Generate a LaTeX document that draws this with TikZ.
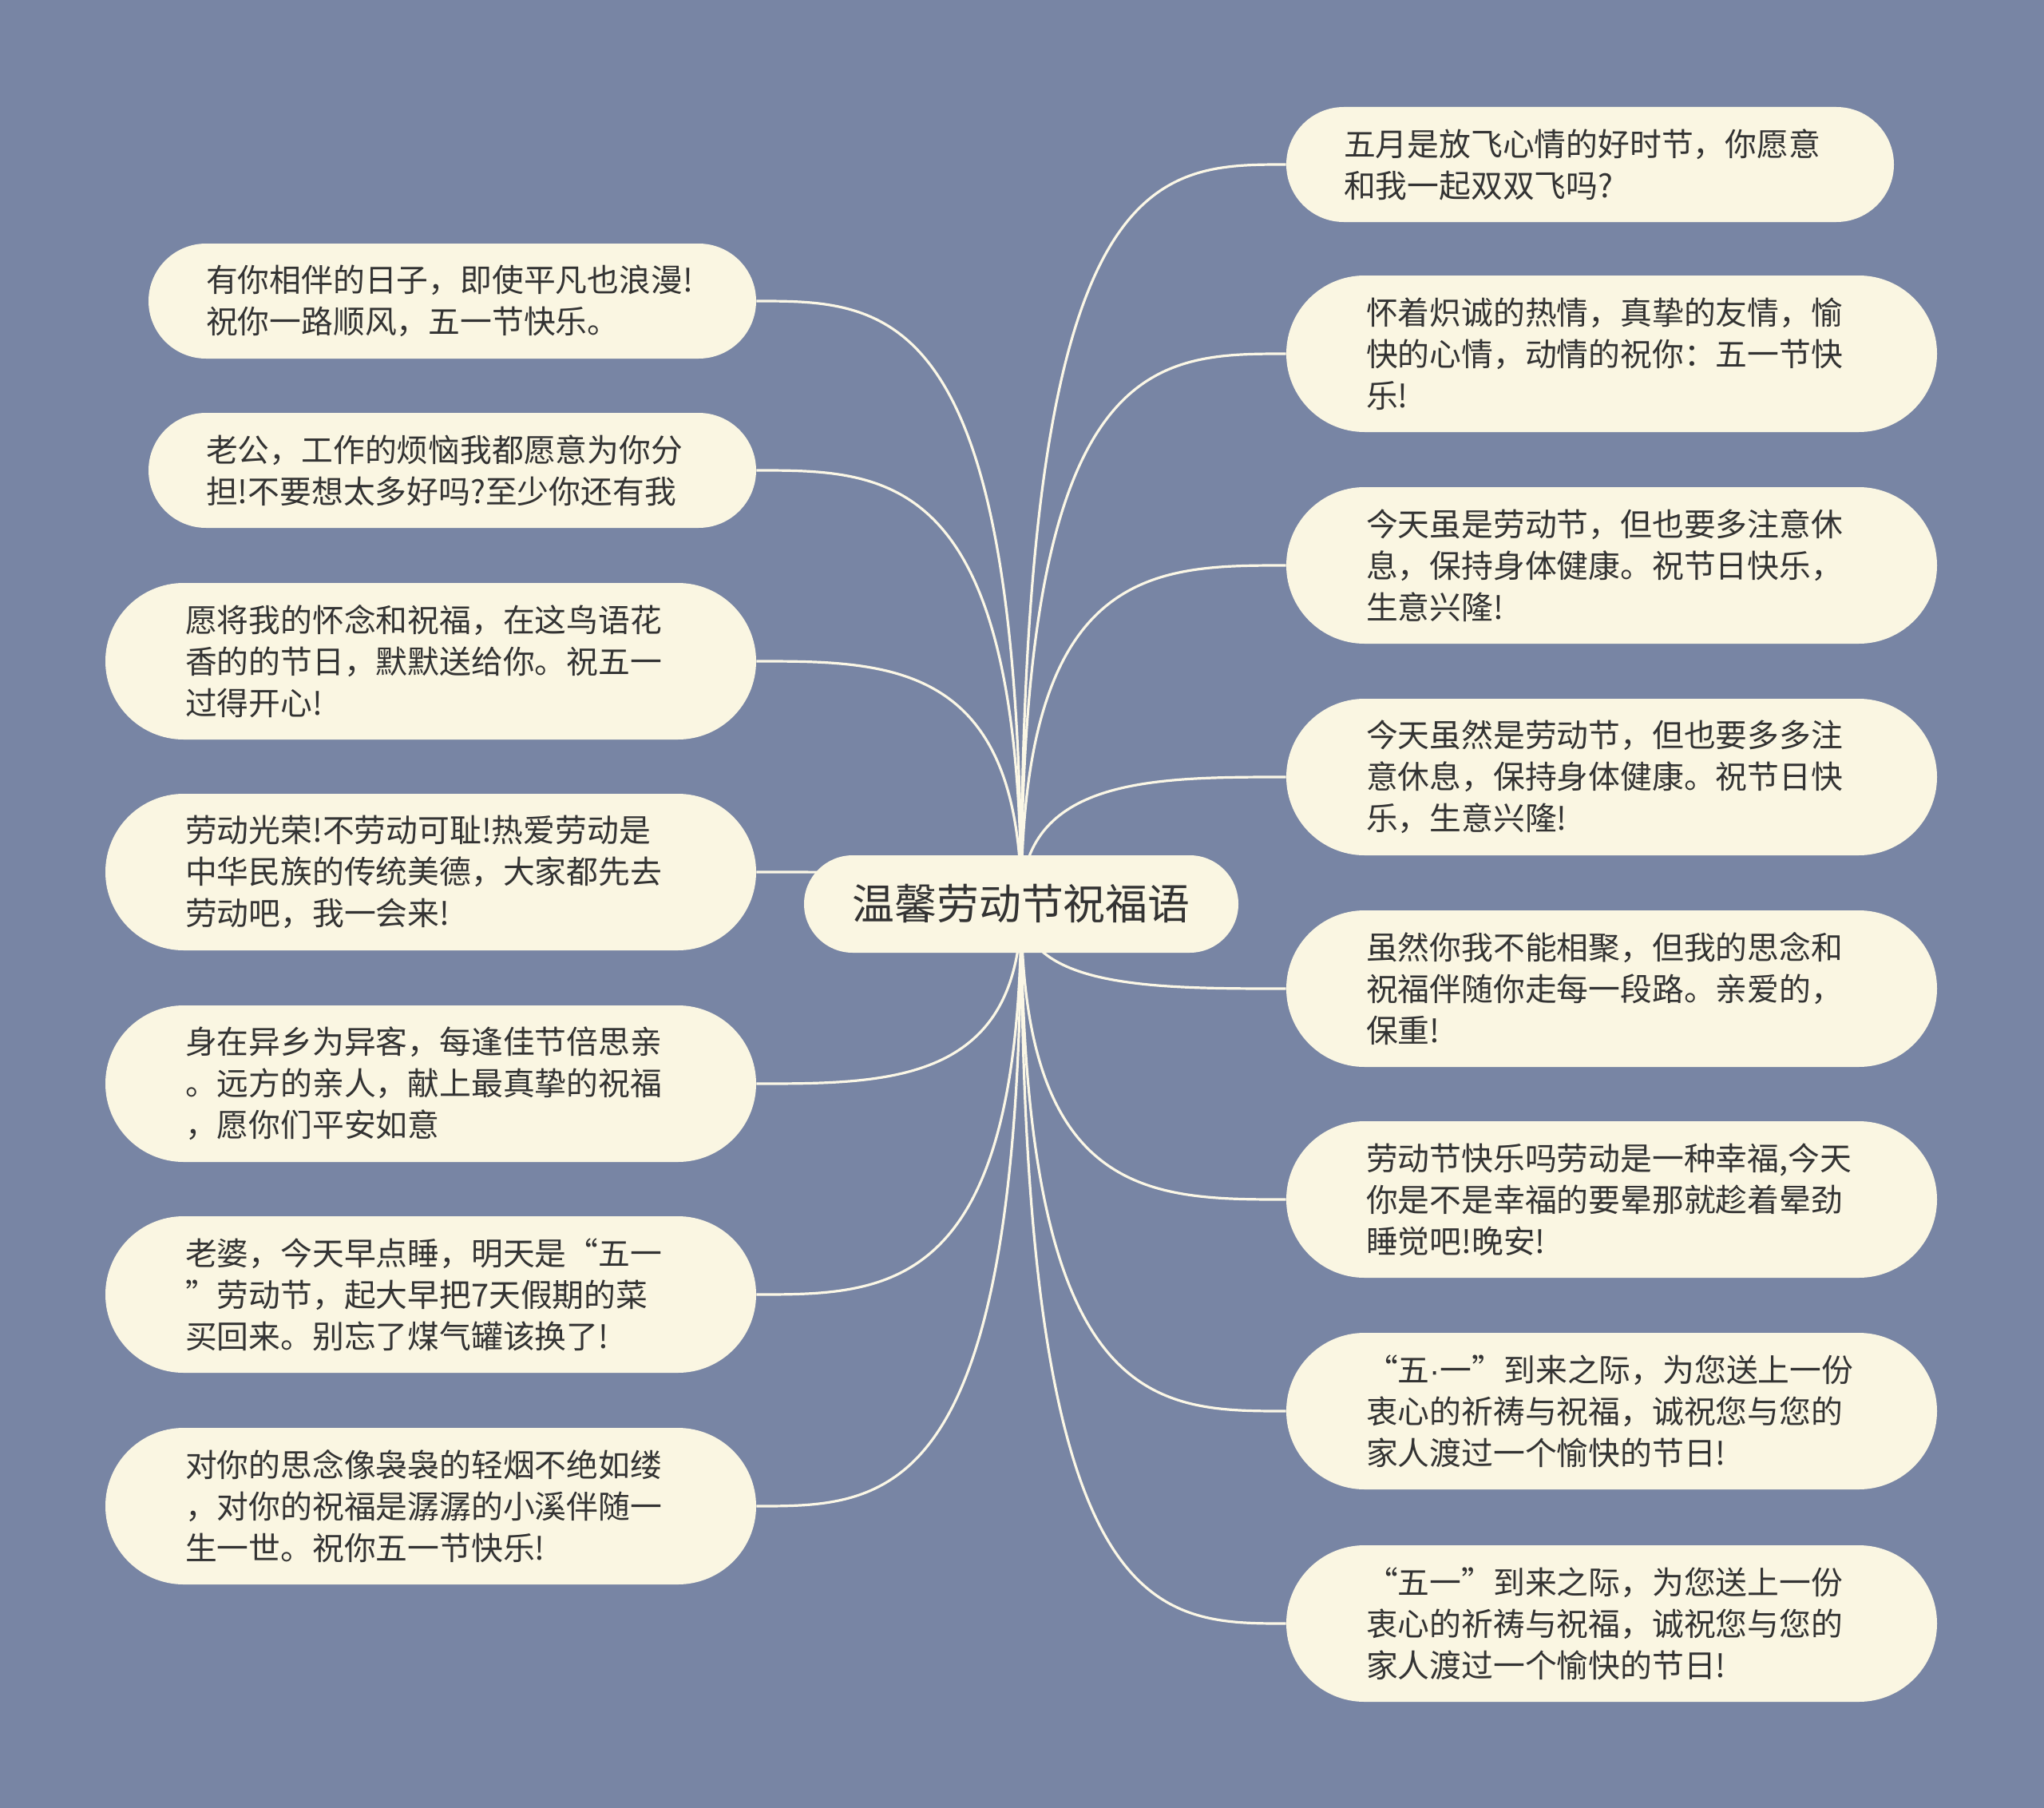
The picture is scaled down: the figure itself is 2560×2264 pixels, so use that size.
\documentclass[tikz,border=0pt]{standalone}
\usepackage{fontspec}
\newfontfamily\cjk{Noto Sans CJK SC}
\newfontfamily\latin{Liberation Sans}
\usetikzlibrary{calc}
\definecolor{bgcol}{RGB}{120,133,164}
\definecolor{nodecol}{RGB}{250,246,226}
\definecolor{linecol}{RGB}{251,247,230}
\definecolor{textcol}{RGB}{51,51,51}
\pgfdeclarelayer{back}
\pgfdeclarelayer{links}
\pgfsetlayers{back,links,main}

\begin{document}
\begin{tikzpicture}[
  x=0.5pt,y=-0.5pt,
  leaf/.style={fill=nodecol,text=textcol,align=left,inner ysep=0pt,font=\cjk\fontsize{19.9}{26}\selectfont},
  twoline/.style={leaf,inner xsep=36pt,text width=308.5pt,minimum height=72pt,rounded corners=36pt},
  threeline/.style={leaf,inner xsep=50pt,text width=307.5pt,minimum height=98pt,rounded corners=49pt},
  hub/.style={fill=nodecol,text=textcol,inner sep=0pt,minimum width=272pt,minimum height=61pt,rounded corners=30.5pt,font=\cjk\fontsize{26.4}{30}\selectfont},
  link/.style={draw=linecol,line width=1.6pt},
  branch/.style={to path={.. controls (\tikztostart |- \tikztotarget) and ($(\tikztostart |- \tikztotarget)!0.5!(\tikztotarget)$) .. (\tikztotarget)}}
]
\begin{pgfonlayer}{back}
\fill[bgcol] (0,0) rectangle (2560,2264);
\end{pgfonlayer}
\node[hub] (root) at (1279,1132) {温馨劳动节祝福语};
% left side
\node[twoline] (l1) at (566.5,377) {有你相伴的日子，即使平凡也浪漫!\\祝你一路顺风，五一节快乐。};
\node[twoline] (l2) at (566.5,589) {老公，工作的烦恼我都愿意为你分\\担!不要想太多好吗?至少你还有我};
\node[threeline] (l3) at (539.5,828) {愿将我的怀念和祝福，在这鸟语花\\香的的节日，默默送给你。祝五一\\过得开心!};
\node[threeline] (l4) at (539.5,1092) {劳动光荣!不劳动可耻!热爱劳动是\\中华民族的传统美德，大家都先去\\劳动吧，我一会来!};
\node[threeline] (l5) at (539.5,1357) {身在异乡为异客，每逢佳节倍思亲\\。远方的亲人，献上最真挚的祝福\\，愿你们平安如意};
\node[threeline] (l6) at (539.5,1621) {老婆，今天早点睡，明天是“五一\\”劳动节，起大早把7天假期的菜\\买回来。别忘了煤气罐该换了!};
\node[threeline] (l7) at (539.5,1886) {对你的思念像袅袅的轻烟不绝如缕\\，对你的祝福是潺潺的小溪伴随一\\生一世。祝你五一节快乐!};
% right side
\node[twoline] (r1) at (1991.5,206) {五月是放飞心情的好时节，你愿意\\和我一起双双飞吗?};
\node[threeline] (r2) at (2018.5,443) {怀着炽诚的热情，真挚的友情，愉\\快的心情，动情的祝你：五一节快\\乐!};
\node[threeline] (r3) at (2018.5,708) {今天虽是劳动节，但也要多注意休\\息，保持身体健康。祝节日快乐，\\生意兴隆!};
\node[threeline] (r4) at (2018.5,973) {今天虽然是劳动节，但也要多多注\\意休息，保持身体健康。祝节日快\\乐，生意兴隆!};
\node[threeline] (r5) at (2018.5,1238) {虽然你我不能相聚，但我的思念和\\祝福伴随你走每一段路。亲爱的，\\保重!};
\node[threeline] (r6) at (2018.5,1502) {劳动节快乐吗劳动是一种幸福,今天\\你是不是幸福的要晕那就趁着晕劲\\睡觉吧!晚安!};
\node[threeline] (r7) at (2018.5,1767) {“五{\latin ·}一”到来之际，为您送上一份\\衷心的祈祷与祝福，诚祝您与您的\\家人渡过一个愉快的节日!};
\node[threeline] (r8) at (2018.5,2033) {“五一”到来之际，为您送上一份\\衷心的祈祷与祝福，诚祝您与您的\\家人渡过一个愉快的节日!};
% branches, kept behind the nodes
\begin{pgfonlayer}{links}
\draw[link] (root.center) to[branch] (l1.east);
\draw[link] (root.center) to[branch] (l2.east);
\draw[link] (root.center) to[branch] (l3.east);
\draw[link] (root.center) to[branch] (l4.east);
\draw[link] (root.center) to[branch] (l5.east);
\draw[link] (root.center) to[branch] (l6.east);
\draw[link] (root.center) to[branch] (l7.east);
\draw[link] (root.center) to[branch] (r1.west);
\draw[link] (root.center) to[branch] (r2.west);
\draw[link] (root.center) to[branch] (r3.west);
\draw[link] (root.center) to[branch] (r4.west);
\draw[link] (root.center) to[branch] (r5.west);
\draw[link] (root.center) to[branch] (r6.west);
\draw[link] (root.center) to[branch] (r7.west);
\draw[link] (root.center) to[branch] (r8.west);
\end{pgfonlayer}
\end{tikzpicture}
\end{document}
